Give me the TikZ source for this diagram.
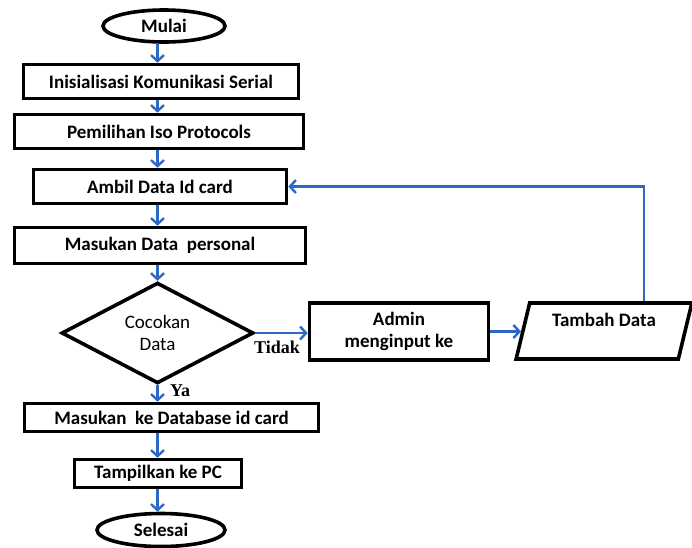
\documentclass[tikz,border=0pt]{standalone}
\usepackage{fontspec}
\setmainfont{Carlito}
\newfontfamily\labelserif{Liberation Serif}
\usetikzlibrary{arrows.meta,shapes.geometric}
\definecolor{flowblue}{RGB}{44,104,196}

\begin{document}
\begin{tikzpicture}[x=1pt,y=-1pt,
  base/.style={draw=black, line width=3.6pt, inner sep=0pt, align=center,
    font=\bfseries\fontsize{19}{22}\selectfont},
  stepbox/.style={base, rectangle},
  term/.style={base, ellipse},
  decide/.style={base, diamond, font=\fontsize{19}{22}\selectfont},
  iobox/.style={base, trapezium, trapezium left angle=75, trapezium right angle=105,
    trapezium stretches=true},
  flow/.style={draw=flowblue, line width=2.4pt, -{Straight Barb[length=6pt,width=13pt,line width=2.4pt]}},
  branch/.style={font=\labelserif\bfseries\fontsize{18}{20}\selectfont, inner sep=0pt},
]
\useasboundingbox (0,0) rectangle (692,547);

% main column
\node[term, minimum width=122pt, minimum height=32pt] (start) at (164,26) {Mulai};
\node[stepbox, minimum width=275pt, minimum height=34pt] (r1) at (161,81.5) {Inisialisasi Komunikasi Serial};
\node[stepbox, minimum width=289pt, minimum height=34pt] (r2) at (159,131.5) {Pemilihan Iso Protocols};
\node[stepbox, minimum width=253pt, minimum height=34pt] (r3) at (160,186.5) {Ambil Data Id card};
\node[stepbox, minimum width=291pt, minimum height=36pt] (r4) at (160,245.5) {Masukan Data\ \ personal};
\node[decide, minimum width=192pt, minimum height=81pt] (d) at (157.5,333) {Cocokan\\Data};
\node[stepbox, minimum width=294pt, minimum height=28pt] (r5) at (171.5,417.5) {Masukan\ \ ke Database id card};
\node[stepbox, minimum width=167pt, minimum height=28pt] (r6) at (158,473.5) {Tampilkan ke PC};
\node[term, minimum width=128pt, minimum height=33pt] (end) at (161,530) {Selesai};

% side branch
\node[stepbox, minimum width=179pt, minimum height=57pt] (admin) at (399,331.5) {Admin\\menginput ke};
\node[iobox, minimum width=176pt, minimum height=56pt] (tambah) at (604,331) {Tambah Data\\\mbox{}};
\coordinate (loopx) at (644,186.5);

% connectors
\draw[flow] (start.south -| d) -- (r1.north -| d);
\draw[flow] (r1.south -| d) -- (r2.north -| d);
\draw[flow] (r2.south -| d) -- (r3.north -| d);
\draw[flow] (r3.south -| d) -- (r4.north -| d);
\draw[flow] (r4.south -| d) -- (d.north);
\draw[flow] (d.south) -- (r5.north -| d);
\draw[flow] (r5.south -| d) -- (r6.north -| d);
\draw[flow] (r6.south -| d) -- (end.north -| d);
\draw[flow] (d.east) -- (d.east -| admin.west);
\draw[flow] (admin.east) -- (admin.east -| tambah.west);
\draw[flow] (tambah.north -| loopx) |- (r3.east);

% branch labels
\node[branch] (no) at (277,347) {Tidak};
\node[branch] (yes) at (180,391) {Ya};
\end{tikzpicture}
\end{document}
